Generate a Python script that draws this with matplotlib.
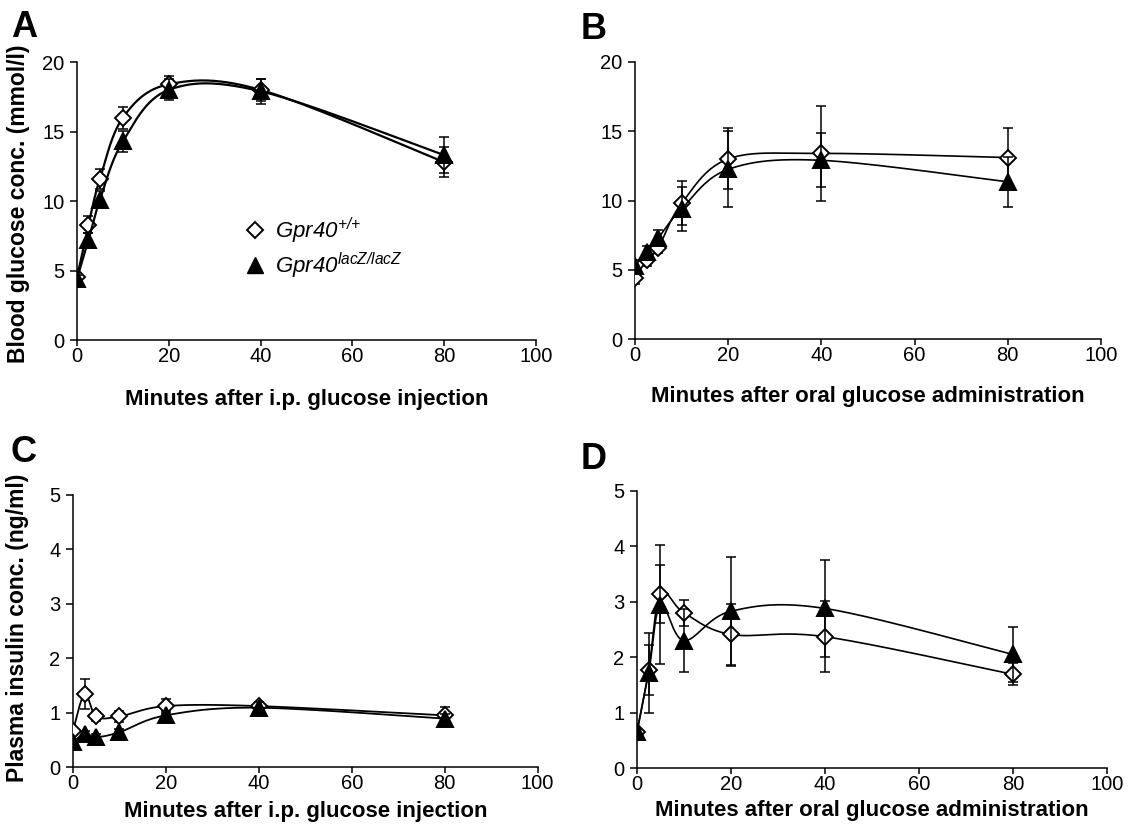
import matplotlib
matplotlib.use("Agg")
import matplotlib.pyplot as plt
import numpy as np
from matplotlib.lines import Line2D

plt.rcParams['font.family'] = ['Liberation Sans', 'DejaVu Sans']
plt.rcParams['mathtext.fontset'] = 'custom'
plt.rcParams['mathtext.it'] = 'Liberation Sans:italic'
plt.rcParams['mathtext.rm'] = 'Liberation Sans:italic'

# sampling times (min)
minutes = [0, 2.5, 5, 10, 20, 40, 80]

# A: blood glucose, i.p. injection (mmol/l)
glu_ip_wt = [4.5, 8.3, 11.6, 16.0, 18.4, 18.0, 12.8]
glu_ip_wt_err = [0.3, 0.6, 0.7, 0.8, 0.6, 0.8, 1.1]
glu_ip_ko = [4.4, 7.2, 10.1, 14.3, 18.0, 17.9, 13.3]
glu_ip_ko_err = [0.3, 0.5, 0.6, 0.75, 0.75, 0.9, 1.3]

# B: blood glucose, oral (mmol/l)
glu_or_wt = [4.4, 5.7, 6.6, 9.8, 13.0, 13.4, 13.1]
glu_or_wt_err = [0.4, 0.4, 0.4, 1.6, 2.2, 3.4, 2.1]
glu_or_ko = [5.3, 6.3, 7.3, 9.4, 12.25, 12.9, 11.35]
glu_or_ko_err = [0.4, 0.4, 0.6, 1.6, 2.75, 1.95, 1.8]

# C: plasma insulin, i.p. injection (ng/ml)
ins_ip_wt = [0.67, 1.34, 0.93, 0.93, 1.12, 1.12, 0.95]
ins_ip_wt_err = [0.05, 0.27, 0.08, 0.1, 0.13, 0.08, 0.15]
ins_ip_ko = [0.46, 0.61, 0.55, 0.64, 0.95, 1.09, 0.89]
ins_ip_ko_err = [0.05, 0.06, 0.05, 0.06, 0.08, 0.1, 0.08]

# D: plasma insulin, oral (ng/ml)
ins_or_wt = [0.65, 1.77, 3.14, 2.8, 2.41, 2.37, 1.69]
ins_or_wt_err = [0.05, 0.45, 0.52, 0.23, 0.55, 0.64, 0.2]
ins_or_ko = [0.65, 1.72, 2.95, 2.3, 2.83, 2.88, 2.05]
ins_or_ko_err = [0.05, 0.72, 1.08, 0.57, 0.98, 0.88, 0.5]

xlab_ip = 'Minutes after i.p. glucose injection'
xlab_or = 'Minutes after oral glucose administration'
wt_label = r'$Gpr40^{{+}/{+}}$'
ko_label = r'$Gpr40^{lacZ/lacZ}$'

WT_MS = 8.0
KO_MS = 12.0


def smooth(x, y, n=40):
    # Excel-style smoothed line (Bezier through the points)
    p = np.column_stack([x, y]).astype(float)
    q = np.vstack([p[0], p, p[-1]])
    t = np.linspace(0, 1, n)[:, None]
    out = []
    for i in range(len(p) - 1):
        p0, p1, p2, p3 = q[i], q[i + 1], q[i + 2], q[i + 3]
        c1 = p1 + (p2 - p0) / 6
        c2 = p2 - (p3 - p1) / 6
        seg = ((1 - t) ** 3) * p1 + 3 * ((1 - t) ** 2) * t * c1 + 3 * (1 - t) * t ** 2 * c2 + t ** 3 * p2
        out.append(seg)
    s = np.vstack(out)
    return s[:, 0], s[:, 1]


def panel(ax, wt, wt_err, ko, ko_err, ymax, ystep, xlabel, lw=1.3):
    for y, e, mk, fc, ms, z in [(wt, wt_err, 'D', 'white', WT_MS, 3),
                                 (ko, ko_err, '^', 'black', KO_MS, 4)]:
        sx, sy = smooth(minutes, y)
        ax.plot(sx, sy, color='black', lw=lw, zorder=z)
        ax.errorbar(minutes, y, yerr=e, fmt='none', ecolor='black',
                    elinewidth=1.1, capsize=3.7, capthick=1.1, zorder=z)
        ax.plot(minutes, y, linestyle='none', marker=mk, ms=ms, mfc=fc,
                mec='black', mew=1.4, zorder=z + 0.5)
    ax.set_xlim(0, 100)
    ax.set_ylim(0, ymax)
    ax.set_xticks(np.arange(0, 101, 20))
    ax.set_yticks(np.arange(0, ymax + 0.01, ystep))
    ax.spines['top'].set_visible(False)
    ax.spines['right'].set_visible(False)
    ax.spines['left'].set_linewidth(1.1)
    ax.spines['bottom'].set_linewidth(1.1)
    ax.tick_params(axis='x', direction='out', length=4, width=1.1, labelsize=14.5, pad=1)
    ax.tick_params(axis='y', direction='out', length=5, width=1.1, labelsize=14.5, pad=4)
    ax.set_xlabel(xlabel, fontsize=16, fontweight='bold')


fig = plt.figure(figsize=(11.34, 8.33), dpi=100)
axA = fig.add_axes([0.0679, 0.5918, 0.4048, 0.3337])
axB = fig.add_axes([0.5600, 0.5930, 0.4109, 0.3326])
axC = fig.add_axes([0.0644, 0.0792, 0.4096, 0.3266])
axD = fig.add_axes([0.5617, 0.0780, 0.4145, 0.3326])

panel(axA, glu_ip_wt, glu_ip_wt_err, glu_ip_ko, glu_ip_ko_err, 20, 5, xlab_ip, lw=1.6)
panel(axB, glu_or_wt, glu_or_wt_err, glu_or_ko, glu_or_ko_err, 20, 5, xlab_or, lw=1.2)
panel(axC, ins_ip_wt, ins_ip_wt_err, ins_ip_ko, ins_ip_ko_err, 5, 1, xlab_ip, lw=1.3)
panel(axD, ins_or_wt, ins_or_wt_err, ins_or_ko, ins_or_ko_err, 5, 1, xlab_or, lw=1.2)

# x-label vertical placement (axes fraction)
axA.xaxis.set_label_coords(0.5, -0.175)
axB.xaxis.set_label_coords(0.5, -0.17)
axC.xaxis.set_label_coords(0.5, -0.125)
axD.xaxis.set_label_coords(0.5, -0.115)

axA.set_ylabel('Blood glucose conc. (mmol/l)', fontsize=16.5, fontweight='bold')
axA.yaxis.set_label_coords(-0.102, 0.49)
axC.set_ylabel('Plasma insulin conc. (ng/ml)', fontsize=16.5, fontweight='bold')
axC.yaxis.set_label_coords(-0.095, 0.51)

handles = [Line2D([], [], linestyle='none', marker='D', ms=WT_MS, mfc='white', mec='black', mew=1.4),
           Line2D([], [], linestyle='none', marker='^', ms=KO_MS, mfc='black', mec='black')]
axA.legend(handles, [wt_label, ko_label], loc='center left', bbox_to_anchor=(0.349, 0.33),
           frameon=False, fontsize=16, handlelength=0.8, handletextpad=0.5, labelspacing=0.2,
           borderaxespad=0)

for lab, xp, yp in [('A', 11, 10), ('B', 581, 12), ('C', 11, 435), ('D', 581, 442)]:
    fig.text(xp / 1134, 1 - yp / 833, lab, fontsize=26, fontweight='bold', va='top', ha='left')

fig.savefig('out.png', dpi=100)
